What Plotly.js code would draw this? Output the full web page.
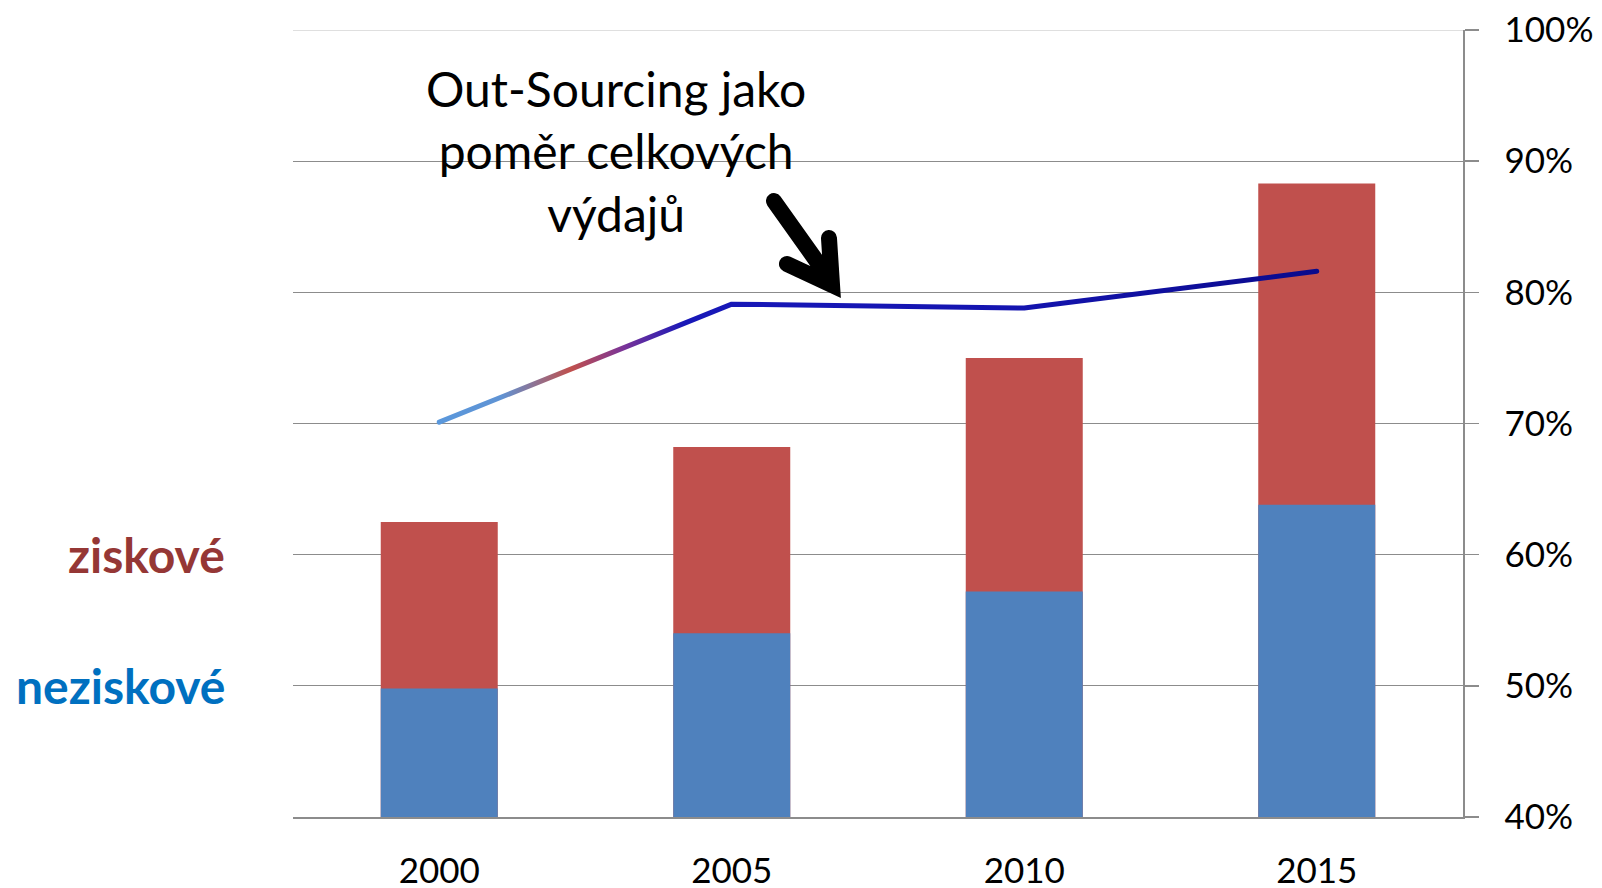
<!DOCTYPE html>
<html>
<head>
<meta charset="utf-8">
<script src="https://cdn.plot.ly/plotly-3.0.1.min.js"></script>
<style>
html,body{margin:0;padding:0;background:#fff;}
#chart{width:1602px;height:888px;}
</style>
</head>
<body>
<div id="chart"></div>
<script>
// ---- data ----
const years = ['2000', '2005', '2010', '2015'];
const neziskove = [49.8, 54.0, 57.2, 63.8];      // blue segment top (%)
const celkem = [62.5, 68.2, 75.0, 88.3];          // red segment top = total (%)
const outsourcing = [70.1, 79.1, 78.8, 81.6];     // line (%)
const yTicks = [40, 50, 60, 70, 80, 90, 100];
const noteText = 'Out-Sourcing jako<br>poměr celkových<br>výdajů';
const labelZiskove = 'ziskové';
const labelNeziskove = 'neziskové';

// ---- layout constants ----
const M = {l: 293, r: 139, t: 30, b: 71};
const PW = 1602 - M.l - M.r, PH = 888 - M.t - M.b;
function P(px, py) { return ((px - M.l) / PW).toFixed(4) + ',' + ((888 - M.b - py) / PH).toFixed(4); }
const arrowPath = 'M' + P(774, 201) + 'L' + P(823, 270) +
                  'M' + P(787, 264) + 'L' + P(832, 285) + 'L' + P(829, 238);

const FONT = 'Lato, "Open Sans", sans-serif';

const traces = [
  {type: 'bar', x: years, y: celkem, marker: {color: '#C0504D'}, showlegend: false, hoverinfo: 'skip'},
  {type: 'bar', x: years, y: neziskove, marker: {color: '#4F81BD'}, showlegend: false, hoverinfo: 'skip'},
  {type: 'scatter', mode: 'lines', x: years, y: outsourcing,
   line: {color: '#1515B0', width: 5}, showlegend: false, hoverinfo: 'skip'}
];

const layout = {
  width: 1602, height: 888,
  margin: M,
  paper_bgcolor: '#fff', plot_bgcolor: '#fff',
  barmode: 'overlay',
  bargap: 0.6,
  font: {family: FONT, color: '#000'},
  showlegend: false,
  xaxis: {
    type: 'category',
    showline: true, linecolor: '#8c8c8c', linewidth: 1.5,
    ticks: '', showgrid: false, zeroline: false,
    tickfont: {family: FONT, size: 35, color: '#000'},
    ticklabelstandoff: 22
  },
  yaxis: {
    side: 'right',
    range: [40, 100],
    tickvals: yTicks,
    ticktext: yTicks.map(v => v + '%'),
    ticks: 'outside', ticklen: 14, tickcolor: '#8c8c8c', tickwidth: 1.5,
    showline: true, linecolor: '#8c8c8c', linewidth: 1.5,
    showgrid: true, gridcolor: '#8c8c8c', gridwidth: 1.3,
    zeroline: false,
    tickfont: {family: FONT, size: 35, color: '#000'},
    ticklabelstandoff: 19
  },
  annotations: [
    {xref: 'paper', yref: 'paper', x: (616 - M.l) / PW, y: (888 - M.b - 151) / PH,
     xanchor: 'center', yanchor: 'middle', showarrow: false, align: 'center',
     text: noteText, font: {family: FONT, size: 48, color: '#000'}},
    {xref: 'paper', yref: 'y', x: 0, y: 60, xanchor: 'right', yanchor: 'middle',
     xshift: -66, showarrow: false,
     text: '<b>' + labelZiskove + '</b>', font: {family: FONT, size: 48, color: '#953735'}},
    {xref: 'paper', yref: 'y', x: 0, y: 50, xanchor: 'right', yanchor: 'middle',
     xshift: -66, showarrow: false,
     text: '<b>' + labelNeziskove + '</b>', font: {family: FONT, size: 48, color: '#0070C0'}}
  ],
  shapes: [
    {type: 'line', xref: 'paper', yref: 'y', x0: 0, x1: 1, y0: 100, y1: 100,
     line: {color: '#d4d4d4', width: 1.5}, layer: 'below'},
    {type: 'path', xref: 'paper', yref: 'paper', path: arrowPath,
     line: {color: '#000', width: 16}, layer: 'above'}
  ]
};

Plotly.newPlot('chart', traces, layout, {staticPlot: true}).then(function(gd) {
  // gradient stroke for the line
  const svg = gd.querySelector('.main-svg');
  let defs = svg.querySelector('defs');
  const NS = 'http://www.w3.org/2000/svg';
  const grad = document.createElementNS(NS, 'linearGradient');
  grad.setAttribute('id', 'lineGrad');
  grad.setAttribute('x1', '0'); grad.setAttribute('x2', '1');
  grad.setAttribute('y1', '0'); grad.setAttribute('y2', '0');
  [[0, '#5A98DC'], [0.07, '#5F93D4'], [0.15, '#C0504D'], [0.21, '#7A3498'],
   [0.28, '#1818B8'], [0.65, '#1414B0'], [1, '#0A0A8C']].forEach(function(s) {
    const st = document.createElementNS(NS, 'stop');
    st.setAttribute('offset', s[0]);
    st.setAttribute('stop-color', s[1]);
    grad.appendChild(st);
  });
  defs.appendChild(grad);
  gd.querySelectorAll('.scatterlayer path.js-line').forEach(function(p) {
    p.style.stroke = 'url(#lineGrad)';
    p.style.strokeLinecap = 'round';
    p.style.strokeLinejoin = 'round';
  });
  gd.querySelectorAll('.shapelayer path').forEach(function(p) {
    if (p.style.strokeWidth === '16px') {
      p.style.strokeLinecap = 'round';
      p.style.strokeLinejoin = 'miter';
    }
  });
});
</script>
</body>
</html>
